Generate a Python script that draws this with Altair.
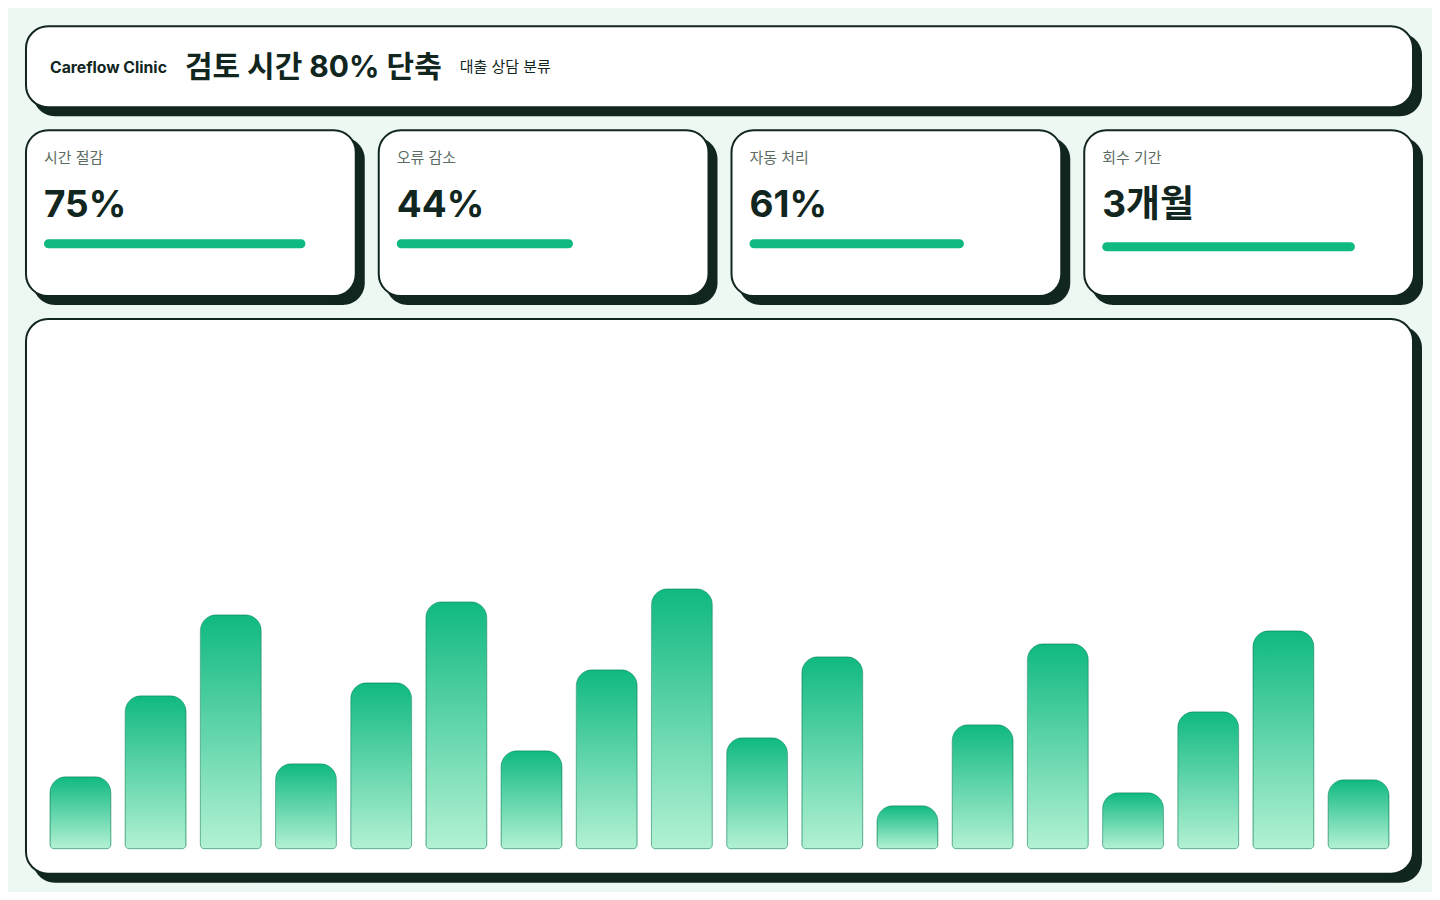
import altair as alt
import pandas as pd

# ---------------- data ----------------
brand = "Careflow Clinic"
headline = "검토 시간 80% 단축"
subtitle = "대출 상담 분류"

kpi_labels = ["시간 절감", "오류 감소", "자동 처리", "회수 기간"]
kpi_values = ["75%", "44%", "61%", "3개월"]
kpi_fill = [89, 60, 73, 86]  # progress bar fill (% of track)

bar_categories = [f"W{i:02d}" for i in range(1, 19)]
bar_values = [14.4, 30.6, 46.8, 17.0, 33.2, 49.4, 19.6, 35.8, 52.0,
              22.2, 38.4, 8.6, 24.8, 41.0, 11.2, 27.4, 43.6, 13.8]

# ---------------- style ----------------
INK = "#11261e"
BG = "#eef8f3"
GREEN = "#10b981"
FONT = "Inter, 'Noto Sans CJK KR', sans-serif"
RADIUS = 22
SHADOW = 8

one = pd.DataFrame({"k": [0]})


def card_layers(w, h):
    shadow = alt.Chart(one).mark_rect(color=INK, cornerRadius=RADIUS).encode(
        x=alt.value(SHADOW), x2=alt.value(w + SHADOW),
        y=alt.value(SHADOW), y2=alt.value(h + SHADOW))
    card = alt.Chart(one).mark_rect(fill="white", stroke=INK, strokeWidth=2,
                                    cornerRadius=RADIUS).encode(
        x=alt.value(1), x2=alt.value(w - 1), y=alt.value(1), y2=alt.value(h - 1))
    return [shadow, card]


# ---------------- header ----------------
HW, HH = 1390, 83
hdr_df = pd.DataFrame({"brand": [brand], "headline": [headline], "subtitle": [subtitle]})
hdr_base = alt.Chart(hdr_df)
t_brand = hdr_base.mark_text(align="left", baseline="middle", font=FONT, fontSize=15.8,
                             fontWeight="bold", color=INK).encode(
    text="brand:N", x=alt.value(25), y=alt.value(43))
t_head = hdr_base.mark_text(align="left", baseline="middle", font=FONT, fontSize=30,
                            fontWeight="bold", color=INK).encode(
    text="headline:N", x=alt.value(160), y=alt.value(43))
t_sub = hdr_base.mark_text(align="left", baseline="middle", font=FONT, fontSize=15,
                           color=INK).encode(
    text="subtitle:N", x=alt.value(435), y=alt.value(42))
header = alt.layer(*card_layers(HW, HH), t_brand, t_head, t_sub).properties(
    width=HW, height=HH)

# ---------------- KPI cards ----------------
KW, KH = 332, 168
kpi_df = pd.DataFrame({"label": kpi_labels, "value": kpi_values, "fill": kpi_fill})
cards = []
for i in range(len(kpi_labels)):
    d = kpi_df.iloc[[i]]
    base = alt.Chart(d)
    lab = base.mark_text(align="left", baseline="middle", font=FONT, fontSize=15,
                         color="#5c6b64").encode(
        text="label:N", x=alt.value(19), y=alt.value(29))
    val = base.mark_text(align="left", baseline="middle", font=FONT, fontSize=37,
                         fontWeight="bold", color=INK).encode(
        text="value:N", x=alt.value(19), y=alt.value(77))
    top = 113 if i == 3 else 110
    bar = base.mark_rect(color=GREEN, cornerRadius=4.5).encode(
        x=alt.X("fill:Q", scale=alt.Scale(domain=[0, 100], range=[19, 313]), axis=None),
        x2=alt.datum(0),
        y=alt.value(top), y2=alt.value(top + 9))
    cards.append(alt.layer(*card_layers(KW, KH), lab, val, bar).properties(
        width=KW, height=KH))
kpi_row = alt.hconcat(*cards, spacing=21, bounds="flush")

# ---------------- bar chart card ----------------
CW, CH = 1390, 557
bars_df = pd.DataFrame({"cat": bar_categories, "val": bar_values})
grad = alt.LinearGradient(
    gradient="linear", x1=0, x2=0, y1=0, y2=1,
    stops=[alt.GradientStop(color="#10b981", offset=0),
           alt.GradientStop(color="#b3f1d4", offset=1)])
bars = alt.Chart(bars_df).mark_bar(
    color=grad, stroke="#0e8a5c", strokeOpacity=0.55, strokeWidth=1,
    cornerRadiusTopLeft=16, cornerRadiusTopRight=16,
    cornerRadiusBottomLeft=4, cornerRadiusBottomRight=4).encode(
    x=alt.X("cat:N", sort=bar_categories, axis=None,
            scale=alt.Scale(range=[25, 1365], paddingInner=0.19, paddingOuter=0)),
    y=alt.Y("val:Q", axis=None, scale=alt.Scale(domain=[0, 100], range=[531, 31])),
    tooltip=["cat:N", "val:Q"])
chart_card = alt.layer(*card_layers(CW, CH), bars).properties(width=CW, height=CH)

# ---------------- assemble ----------------
# outer bounds are "full": each row's extent includes its 8px shadow
chart = alt.vconcat(header, kpi_row, chart_card, spacing=21 - SHADOW).properties(
    padding={"left": 17, "top": 17, "right": 9, "bottom": 9}
).configure(background=BG).configure_view(strokeWidth=0)

chart.save("out.html", embed_options={"renderer": "svg", "actions": False})
